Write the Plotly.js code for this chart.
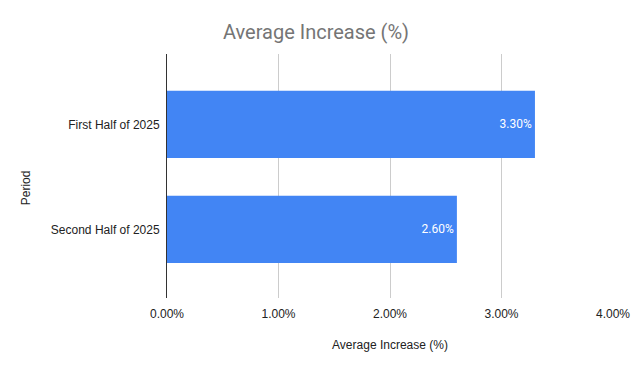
<!DOCTYPE html>
<html>
<head>
<meta charset="utf-8">
<script src="https://cdn.plot.ly/plotly-3.0.1.min.js"></script>
<style>html,body{margin:0;padding:0;background:#fff;}#chart{width:632px;height:371px;}</style>
</head>
<body>
<div id="chart"></div>
<script>
const categories = ["First Half of 2025", "Second Half of 2025"];
const values = [3.3, 2.6];
const valueLabels = ["3.30%", "2.60%"];
const xTickVals = [0, 1, 2, 3, 4];
const xTickText = ["0.00%", "1.00%", "2.00%", "3.00%", "4.00%"];

const trace = {
  type: "bar",
  orientation: "h",
  y: categories,
  x: values,
  text: valueLabels,
  textposition: "inside",
  insidetextanchor: "end",
  textfont: {family: "Roboto, Arial, sans-serif", size: 12, color: "#ffffff"},
  marker: {color: "#4285F4"},
  hoverinfo: "none",
  cliponaxis: false
};

const layout = {
  width: 632,
  height: 371,
  margin: {l: 167, r: 19, t: 54, b: 73},
  paper_bgcolor: "#ffffff",
  plot_bgcolor: "#ffffff",
  showlegend: false,
  bargap: 0.36,
  title: {
    text: "Average Increase (%)",
    font: {family: "Roboto, Arial, sans-serif", size: 20, color: "#757575"},
    x: 0.5, xanchor: "center", y: 0.915, yanchor: "middle"
  },
  xaxis: {
    range: [0, 4],
    tickvals: xTickVals,
    ticktext: xTickText,
    showgrid: true,
    gridcolor: "#cccccc",
    gridwidth: 1,
    zeroline: false,
    showline: false,
    ticks: "",
    ticklabelstandoff: 7,
    tickfont: {family: "Arial, 'Liberation Sans', sans-serif", size: 12, color: "#222222"},
    title: {text: "Average Increase (%)", standoff: 20,
      font: {family: "Arial, 'Liberation Sans', sans-serif", size: 12, color: "#222222"}},
    fixedrange: true
  },
  yaxis: {
    type: "category",
    range: [1.653, -0.671],
    showgrid: false,
    zeroline: false,
    showline: true,
    linecolor: "#333333",
    linewidth: 1,
    ticks: "",
    ticklabelstandoff: 4,
    tickfont: {family: "Arial, 'Liberation Sans', sans-serif", size: 12, color: "#222222"},
    fixedrange: true
  },
  annotations: [{
    text: "Period",
    xref: "paper", yref: "paper",
    x: -0.316, y: 0.45,
    xanchor: "center", yanchor: "middle",
    textangle: -90,
    showarrow: false,
    font: {family: "Arial, 'Liberation Sans', sans-serif", size: 12, color: "#222222"}
  }]
};

Plotly.newPlot("chart", [trace], layout, {displayModeBar: false, staticPlot: true});
</script>
</body>
</html>
